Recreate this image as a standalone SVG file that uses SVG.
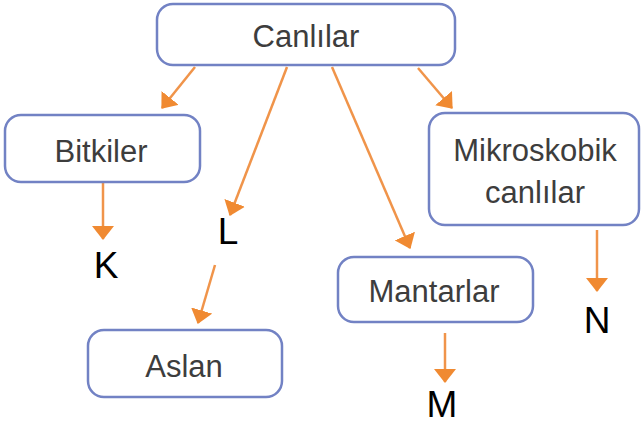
<svg xmlns="http://www.w3.org/2000/svg" width="643" height="425" viewBox="0 0 643 425">
<style>
.box{fill:#ffffff;stroke:#7282c4;stroke-width:2.5}
.lbl{font-family:"Liberation Sans",Arial,sans-serif;font-size:31px;fill:#3d3d3d;text-anchor:middle}
.big{font-family:"Liberation Sans",Arial,sans-serif;font-size:37px;fill:#000000;text-anchor:middle}
.arr{stroke:#f0944a;stroke-width:2.5;fill:none;marker-end:url(#ah)}
</style>
<defs>
<marker id="ah" markerUnits="userSpaceOnUse" viewBox="0 0 14 22" refX="13" refY="11" markerWidth="14" markerHeight="22" orient="auto">
<path d="M0,0 L14,11 L0,22 z" fill="#f08a32"/>
</marker>
</defs>
<rect width="643" height="425" fill="#ffffff"/>
<g id="connectors">
<line class="arr" x1="195" y1="67" x2="162" y2="108"/>
<line class="arr" x1="287" y1="67" x2="230" y2="215"/>
<line class="arr" x1="332" y1="67" x2="410" y2="248"/>
<line class="arr" x1="418" y1="68" x2="452" y2="108"/>
<line class="arr" x1="103" y1="182" x2="103" y2="239"/>
<line class="arr" x1="215" y1="265" x2="198" y2="323"/>
<line class="arr" x1="597" y1="230" x2="597" y2="291"/>
<line class="arr" x1="445" y1="333" x2="445" y2="382"/>
</g>
<g id="canlilar">
<rect class="box" x="157" y="4" width="298" height="61" rx="16"/>
<text class="lbl" x="306" y="47">Canlılar</text>
</g>
<g id="bitkiler">
<rect class="box" x="5" y="115" width="195" height="67" rx="16"/>
<text class="lbl" x="101" y="162">Bitkiler</text>
</g>
<g id="mikroskobik">
<rect class="box" x="429" y="113" width="210" height="112" rx="16"/>
<text class="lbl" x="535" y="161">Mikroskobik</text>
<text class="lbl" x="535" y="203">canlılar</text>
</g>
<g id="mantarlar">
<rect class="box" x="338" y="257" width="195" height="65" rx="16"/>
<text class="lbl" x="434" y="302">Mantarlar</text>
</g>
<g id="aslan">
<rect class="box" x="88" y="330" width="194" height="67" rx="16"/>
<text class="lbl" x="184" y="377">Aslan</text>
</g>
<g id="k"><text class="big" x="106" y="278">K</text></g>
<g id="l"><text class="big" x="228" y="244">L</text></g>
<g id="n"><text class="big" x="597" y="333">N</text></g>
<g id="m"><text class="big" x="442" y="417">M</text></g>
</svg>
